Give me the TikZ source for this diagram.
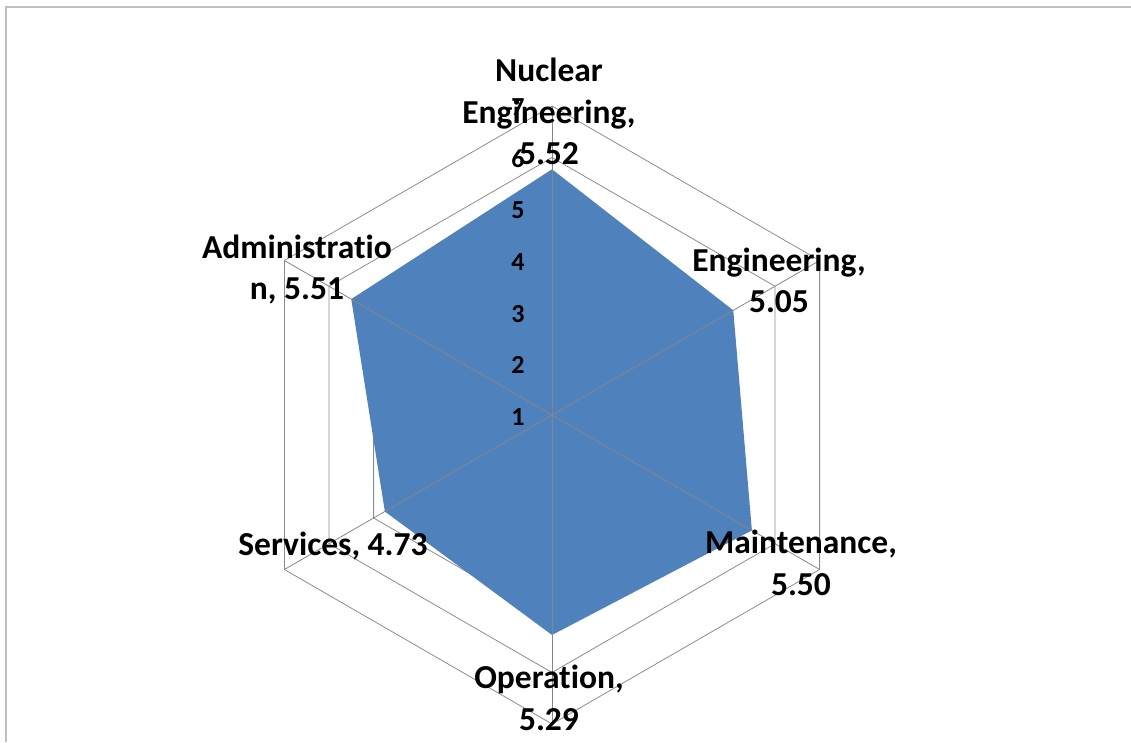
\documentclass[tikz,border=0pt]{standalone}
\usepackage{fontspec}
\setmainfont{Carlito}[Ligatures=NoCommon,Contextuals=NoAlternate]
\usetikzlibrary{calc}
\definecolor{framegray}{HTML}{BFBFBF}
\definecolor{gridgray}{HTML}{8C8C8C}
\definecolor{spokegray}{HTML}{868686}
\definecolor{seriesblue}{HTML}{4F81BD}
\tikzset{
  framestyle/.style={draw=framegray,line width=2pt},
  ringstyle/.style={draw=gridgray,line width=0.8pt},
  spokestyle/.style={draw=spokegray,line width=0.8pt},
  datastyle/.style={fill=seriesblue,draw=none},
  catlabel/.style={font=\fontsize{33.5}{41.5}\selectfont\bfseries,align=center,inner sep=0pt,anchor=base,text=black},
  axlabel/.style={font=\fontsize{26}{30}\selectfont\bfseries,inner sep=0pt,anchor=center,text=black}
}
\begin{document}
\begin{tikzpicture}[x=1pt,y=1pt]
\useasboundingbox (0,0) rectangle (1131,742);
\draw[framestyle] (6,0) -- (6,734.5) -- (1131,734.5);
\coordinate (C) at (552,327);
% rings
\foreach \k in {1,...,6}{
  \pgfmathsetmacro{\r}{\k*51.5}
  \draw[ringstyle,shift={(C)}] (90:\r) -- (30:\r) -- (-30:\r) -- (-90:\r) -- (-150:\r) -- (150:\r) -- cycle;
}
% data
\fill[datastyle,shift={(C)}] (90:245.7) -- (30:209.3) -- (-30:230.8) -- (-90:220) -- (-150:193) -- (150:231.8) -- cycle;
% spokes
\coordinate (vN) at ($(C)+(90:309)$);
\coordinate (vE) at ($(C)+(30:309)$);
\coordinate (vM) at ($(C)+(-30:309)$);
\coordinate (vO) at ($(C)+(-90:309)$);
\coordinate (vS) at ($(C)+(-150:309)$);
\coordinate (vA) at ($(C)+(150:309)$);
\foreach \v in {vN,vE,vM,vO,vS,vA}{\draw[spokestyle] (C) -- (\v);}
% axis labels
\foreach \k in {1,...,7}{
  \node[axlabel] (ax\k) at (518,{742-(417-(\k-1)*51.7)}) {\k};
}
% category labels (anchor = baseline of last line)
\node[catlabel] (lN) at (549,577) {Nuclear\\Engineering,\\5.52};
\node[catlabel] (lE) at (779,429) {Engineering,\\5.05};
\node[catlabel] (lM) at (801,147) {Maintenance,\\5.50};
\node[catlabel] (lO) at (549,12) {Operation,\\5.29};
\node[catlabel] (lS) at (333,187) {Services, 4.73};
\node[catlabel] (lA) at (297,442) {Administratio\\n, 5.51};
\end{tikzpicture}
\end{document}
